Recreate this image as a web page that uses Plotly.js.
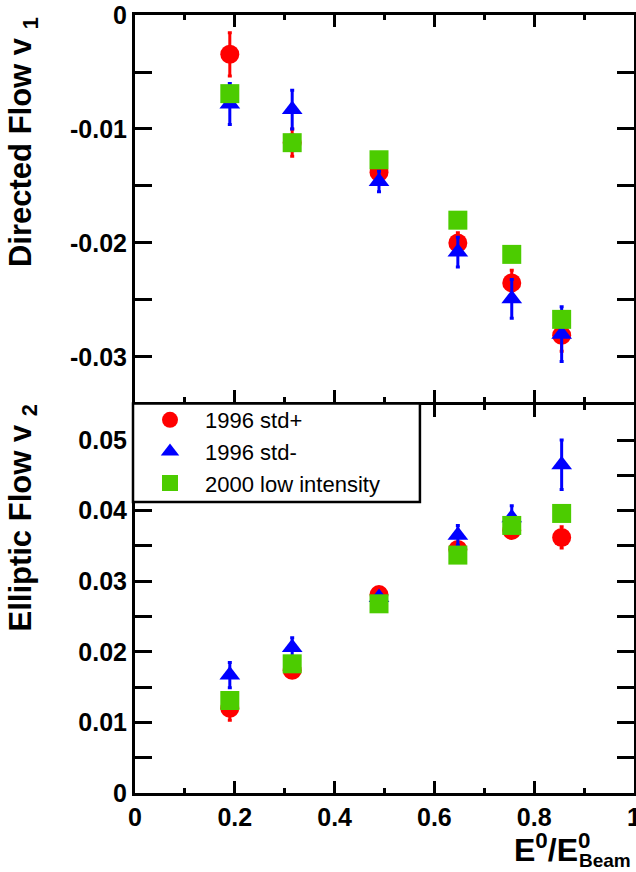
<!DOCTYPE html>
<html>
<head>
<meta charset="utf-8">
<script src="https://cdn.plot.ly/plotly-3.0.1.min.js"></script>
<style>html,body{margin:0;padding:0;background:#fff;}#chart{width:636px;height:872px;}</style>
</head>
<body>
<div id="chart"></div>
<script>
// ---- data ----
const energy = [0.19, 0.315, 0.489, 0.647, 0.755, 0.855];

const v1StdPlus    = [-0.00345, -0.0112, -0.0138, -0.0200, -0.0235, -0.0281];
const v1StdPlusErr = [0.0019, 0.0012, 0.0006, 0.0009, 0.0011, 0.0014];
const v1StdMinus    = [-0.0078, -0.0083, -0.0146, -0.0208, -0.0249, -0.0280];
const v1StdMinusErr = [0.0018, 0.0017, 0.0009, 0.0013, 0.0017, 0.0024];
const v1Low = [-0.0069, -0.0112, -0.0127, -0.0180, -0.0210, -0.0267];

const v2StdPlus    = [0.0120, 0.0174, 0.0281, 0.0345, 0.0372, 0.0362];
const v2StdPlusErr = [0.0017, 0.0008, 0.0006, 0.0010, 0.0008, 0.0015];
const v2StdMinus    = [0.0167, 0.0206, 0.0277, 0.0365, 0.0390, 0.0465];
const v2StdMinusErr = [0.0018, 0.0014, 0.0004, 0.0014, 0.0017, 0.0035];
const v2Low = [0.0131, 0.0183, 0.0268, 0.0337, 0.0379, 0.0396];

const seriesNames = ['1996 std+', '1996 std-', '2000 low intensity'];

const xTickVals = [0, 0.2, 0.4, 0.6, 0.8, 1];
const xTickText = ['0', '0.2', '0.4', '0.6', '0.8', '1'];
const v1TickVals = [0, -0.01, -0.02, -0.03];
const v1TickText = ['0', '-0.01', '-0.02', '-0.03'];
const v2TickVals = [0, 0.01, 0.02, 0.03, 0.04, 0.05];
const v2TickText = ['0', '0.01', '0.02', '0.03', '0.04', '0.05'];

const titleV1 = 'Directed Flow v <sub>1</sub>';
const titleV2 = 'Elliptic Flow v <sub>2</sub>';
const titleX = 'E<sup>0</sup>/E<sup>0</sup>';
const titleXSub = 'Beam';

// ---- styles ----
const RED = '#ff0000', BLUE = '#0000ff', GREEN = '#4ccc00';
const FAMILY = 'Liberation Sans, Arial, sans-serif';
const ebar = (arr, c) => ({type: 'data', array: arr, visible: true, color: c, thickness: 3, width: 2});

function mk(xa, ya, y, err, name, color, symbol, size, show) {
  const t = {
    x: energy, y: y, xaxis: xa, yaxis: ya, name: name, type: 'scatter', mode: 'markers',
    marker: {color: color, symbol: symbol, size: size, line: {width: 0}},
    showlegend: show, legendgroup: name, cliponaxis: false
  };
  if (err) t.error_y = ebar(err, color);
  return t;
}

const traces = [
  mk('x2', 'y2', v1StdPlus, v1StdPlusErr, seriesNames[0], RED, 'circle', 19, true),
  mk('x2', 'y2', v1StdMinus, v1StdMinusErr, seriesNames[1], BLUE, 'triangle-up', 18, true),
  mk('x2', 'y2', v1Low, null, seriesNames[2], GREEN, 'square', 19, true),
  mk('x', 'y', v2StdPlus, v2StdPlusErr, seriesNames[0], RED, 'circle', 19, false),
  mk('x', 'y', v2StdMinus, v2StdMinusErr, seriesNames[1], BLUE, 'triangle-up', 18, false),
  mk('x', 'y', v2Low, null, seriesNames[2], GREEN, 'square', 19, false)
];

const tickFont = {family: FAMILY, size: 25, color: '#000', weight: 'bold'};

const xCommon = {
  range: [0, 1], showline: true, linecolor: '#000', linewidth: 3, mirror: 'ticks',
  ticks: 'inside', ticklen: 12, tickwidth: 3, tickcolor: '#000',
  tickmode: 'array', tickvals: xTickVals, ticktext: xTickText, ticklabeloverflow: 'allow',
  minor: {ticks: 'inside', tickmode: 'linear', tick0: 0, dtick: 0.1, ticklen: 5, tickwidth: 3, tickcolor: '#000'},
  showgrid: false, zeroline: false, tickfont: tickFont, fixedrange: true
};
const yCommon = {
  showline: true, linecolor: '#000', linewidth: 3, mirror: 'ticks',
  ticks: 'inside', ticklen: 17, tickwidth: 3, tickcolor: '#000', tickmode: 'array', ticklabeloverflow: 'allow',
  minor: {ticks: 'inside', tickmode: 'linear', tick0: 0, dtick: 0.005, ticklen: 17, tickwidth: 3, tickcolor: '#000'},
  showgrid: false, zeroline: false, tickfont: tickFont, fixedrange: true
};

const titleFont = {family: FAMILY, size: 31, color: '#000', weight: 'bold'};

const layout = {
  width: 636, height: 872,
  margin: {l: 135, r: 2, t: 15, b: 79},
  paper_bgcolor: '#fff', plot_bgcolor: '#fff',
  showlegend: true,
  xaxis: Object.assign({}, xCommon, {anchor: 'y', domain: [0, 1]}),
  xaxis2: Object.assign({}, xCommon, {anchor: 'y2', domain: [0, 1], showticklabels: false}),
  yaxis: Object.assign({}, yCommon, {anchor: 'x', domain: [0, 0.49871], range: [0, 0.05496], tickvals: v2TickVals, ticktext: v2TickText}),
  yaxis2: Object.assign({}, yCommon, {anchor: 'x2', domain: [0.50257, 1], range: [-0.03395, 0], tickvals: v1TickVals, ticktext: v1TickText}),
  legend: {
    x: 0, y: 0.5064, xanchor: 'left', yanchor: 'top', xref: 'paper', yref: 'paper',
    bgcolor: 'rgba(0,0,0,0)', borderwidth: 0, itemwidth: 60, itemclick: false, itemdoubleclick: false,
    font: {family: FAMILY, size: 22, color: '#000'},
    tracegroupgap: 0
  },
  shapes: [{
    type: 'rect', xref: 'paper', yref: 'paper', layer: 'above',
    x0: -0.004, x1: 0.571, y0: 0.374, y1: 0.5006,
    line: {color: '#000', width: 2.5}, fillcolor: '#fff'
  }],
  annotations: [
    {text: titleV1, xref: 'paper', yref: 'paper', x: -0.2244, y: 1.0, xanchor: 'center', yanchor: 'top',
     textangle: -90, showarrow: false, font: titleFont},
    {text: titleV2, xref: 'paper', yref: 'paper', x: -0.2244, y: 0.5013, xanchor: 'center', yanchor: 'top',
     textangle: -90, showarrow: false, font: titleFont},
    {text: titleX, xref: 'paper', yref: 'paper', x: 0.756, y: -0.0987, xanchor: 'left', yanchor: 'bottom',
     showarrow: false, font: {family: FAMILY, size: 32, color: '#000', weight: 'bold'}},
    {text: titleXSub, xref: 'paper', yref: 'paper', x: 0.885, y: -0.1028, xanchor: 'left', yanchor: 'bottom',
     showarrow: false, font: {family: FAMILY, size: 19, color: '#000', weight: 'bold'}}
  ]
};

Plotly.newPlot('chart', traces, layout, {displayModeBar: false, staticPlot: true});
</script>
</body>
</html>
